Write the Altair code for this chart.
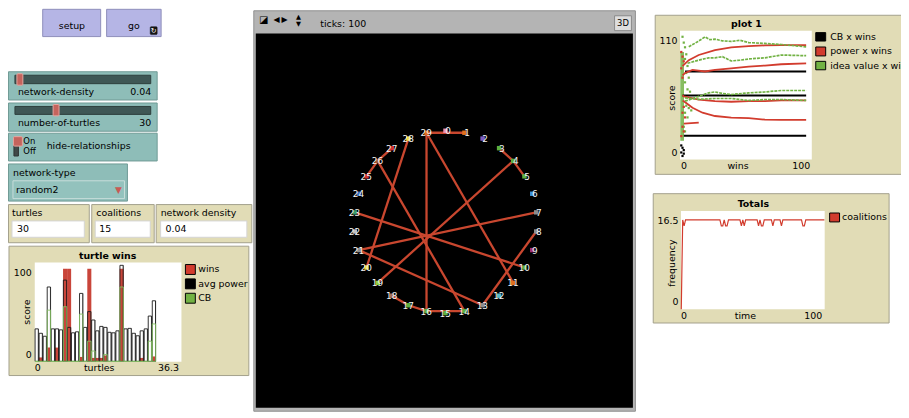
import altair as alt
import pandas as pd

FONT = "DejaVu Sans"
W, H = 901, 410

RED = "#d23c2e"
BAR_RED = "#c9453a"
GREEN = "#72b244"
TEAL = "#8ebdb8"
TEAL_EDGE = "#6f9a95"
BEIGE = "#e1dcb6"
BEIGE_EDGE = "#a3a08c"
LAV = "#b5b5e5"
LAV_EDGE = "#8e8eba"

# ------------------------------------------------------------------ data
# "turtle wins" plot: one column per turtle (who 0..29)
turtle_who = list(range(30))
avg_power = [33, 28.5, 25.5, 75.5, 33, 33, 32, 82.5, 34.5, 29,
             30, 69, 34.5, 50.5, 42, 31, 35.5, 34.5, 29.5, 29,
             31, 97.5, 33, 33.5, 28.5, 26, 31, 33, 46, 61.5]
cb_score = [0, 0, 0, 52, 0, 0, 0, 55.5, 0, 0,
            0, 48, 0, 20.5, 10.5, 0, 0, 7, 0, 0,
            0, 75.5, 0, 0, 0, 0, 0, 0, 20.5, 38]
win_score = [0, 4, 0, 14, 0, 14, 0, 94, 94, 0,
             0, 4.5, 0, 94, 3.5, 3.5, 3.5, 6, 0, 0,
             0, 94, 0, 0, 0, 0, 3.5, 0, 0, 5]
tw_x_ticks = ["0", "36.3"]
tw_y_ticks = ["0", "100"]

# "plot 1": trails (wins, score)
p1_cb_trails = [
    [(3, 75.3), (100, 75.3)],
    [(1, 54.7), (100, 54.7)],
    [(2, 20.3), (100, 20.3)],
]
p1_power_trails = [
    [(1, 80), (2, 81), (6, 85), (14, 89.4), (27, 93.6), (40, 95.9), (54, 97), (67, 97.6), (80, 97.9), (100, 97.9)],
    [(1, 72), (3, 74), (9, 76.7), (19, 75.3), (27, 76.7), (40, 78), (54, 79.5), (67, 80.4), (80, 81.5), (100, 82.3)],
    [(1, 55), (2, 54), (14, 51.3), (27, 49.9), (40, 49.4), (54, 49.9), (67, 49.9), (80, 50.5), (100, 50.5)],
    [(1, 50), (2, 49.9), (9, 44.3), (17, 40), (27, 37.2), (40, 35.8), (54, 35.3), (67, 34.1), (80, 33.8), (100, 33.8)],
    [(2, 30.7), (14, 31.6)],
]
p1_idea_trails = [
    [(6, 96.4), (13, 100.7), (19, 104.9), (23, 102.5), (27, 103), (33, 101.5), (40, 101), (47, 102), (54, 100), (67, 99.3), (80, 98.4), (100, 96.4)],
    [(5, 82.3), (14, 85), (22, 87), (27, 87), (33, 88), (40, 84.3), (47, 85), (54, 86), (67, 87), (80, 89.4), (100, 88.8)],
    [(3, 49.9), (14, 54), (22, 57), (27, 57.8), (33, 56.5), (40, 55.6), (54, 57), (67, 57.8), (80, 59), (100, 59)],
    [(3, 52.7), (14, 51.5), (27, 52.2), (40, 52.2), (54, 50.5), (67, 51.3), (80, 51.3), (100, 50.5)],
]
p1_idea_band = [(-0.8, 16), (2.2, 92)]          # dense cloud of idea values at ~0 wins
p1_idea_dots = [(1, 105), (2, 100), (3, 96), (4, 90), (3, 86), (5, 80), (4, 74), (6, 70),
                (3, 66), (5, 60), (7, 58), (4, 46), (6, 44), (8, 42), (3, 40), (5, 36), (2, 28), (3, 24)]
p1_power_dots = [(0, 92), (1, 88), (2, 84), (0, 78), (1, 70), (2, 45), (1, 40), (3, 36), (1, 28), (2, 24), (0, 20)]
p1_cb_dots = [(0, 12), (1, 10), (2, 8), (0, 6), (2, 5), (1, 3)]
p1_x_ticks = ["0", "100"]
p1_y_ticks = ["0", "110"]

# "Totals": coalitions per tick (vertices of the line)
tot_tick = [0, 1, 2, 3, 27, 28, 29, 30, 31, 32, 33, 41, 42, 43, 44, 45, 53, 54, 55, 56, 57, 58,
            63, 64, 65, 69, 70, 71, 84, 85, 86, 87, 100]
tot_coalitions = [0, 15, 14, 15, 15, 14, 14, 15, 14, 14, 15, 15, 14, 15, 14, 15, 15, 14, 15, 14, 14, 15,
                  15, 14, 15, 15, 14, 15, 15, 14, 14, 15, 15]
tot_x_ticks = ["0", "100"]
tot_y_ticks = ["0", "16.5"]

# network view: turtles (layout-circle positions read from the view)
node_who = list(range(30))
node_x = [0, 2.08, 4.07, 5.88, 7.43, 8.66, 9.51, 9.95, 9.95, 9.51,
          8.66, 7.43, 5.88, 4.07, 2.08, 0, -2.08, -4.07, -5.88, -7.43,
          -8.66, -9.51, -9.95, -9.95, -9.51, -8.66, -7.43, -5.88, -4.07, -2.08]
node_y = [10, 9.78, 9.14, 8.09, 6.69, 5.0, 3.09, 1.05, -1.05, -3.09,
          -5.0, -6.69, -8.09, -9.14, -9.78, -10, -9.78, -9.14, -8.09, -6.69,
          -5.0, -3.09, -1.05, 1.05, 3.09, 5.0, 6.69, 8.09, 9.14, 9.78]
node_color = ["#e890b0", "#e0701e", "#7b5cc0", "#5cb040", "#5cb040", "#5cb040", "#3c8fd6", "#8c8c8c",
              "#8c8c8c", "#a0306e", "#5cb040", "#e0701e", "#4fb8c8", "#8c8c8c", "#5cb040", "#5cb040",
              "#5cb040", "#5cb040", "#a0705a", "#8ed040", "#f0e040", "#8c8c8c", "#c0c0c0", "#3a9a6a",
              "#3c70c0", "#d03030", "#a05a3a", "#d03030", "#f0e040", "#e0701e"]
edge_from = [29, 3, 4, 29, 29, 28, 27, 26, 26, 23, 21, 21, 19, 8, 18, 17, 16]
edge_to = [1, 4, 5, 16, 11, 20, 26, 25, 14, 10, 7, 13, 4, 13, 17, 16, 14]

# monitors / widgets values
monitor_turtles = "30"
monitor_coalitions = "15"
monitor_density = "0.04"
slider_density = "0.04"
slider_turtles = "30"
chooser_value = "random2"
view_ticks = "ticks: 100"


# ------------------------------------------------------------------ helpers
def sc(dom, a, b):
    return alt.Scale(domain=dom, range=[a - 8, b - 8], nice=False, zero=False)


PXS = sc([0, 909], 0, 909)
PYS = sc([0, 418], 0, 418)


def rect_layer(rows, **mk):
    df = pd.DataFrame(rows, columns=["x1", "y1", "x2", "y2", "fill", "stroke", "sw"])
    return alt.Chart(df).mark_rect(**mk).encode(
        x=alt.X("x1:Q", scale=PXS, axis=None), x2="x2:Q",
        y=alt.Y("y1:Q", scale=PYS, axis=None), y2="y2:Q",
        fill=alt.Fill("fill:N", scale=None),
        stroke=alt.Stroke("stroke:N", scale=None),
        strokeWidth=alt.StrokeWidth("sw:Q", scale=None))


def text_layer(rows, align="left", size=9.5, weight="normal", angle=0, color="#000000"):
    df = pd.DataFrame(rows, columns=["x", "y", "t"])
    return alt.Chart(df).mark_text(align=align, baseline="middle", font=FONT, fontSize=size,
                                   fontWeight=weight, angle=angle, color=color).encode(
        x=alt.X("x:Q", scale=PXS, axis=None), y=alt.Y("y:Q", scale=PYS, axis=None), text="t:N")


layers = []

# ------------------------------------------------------------------ widget frames
layers.append(rect_layer([
    # buttons
    (43, 7.5, 101.5, 35, LAV, LAV_EDGE, 1),
    (107.5, 7.5, 162.5, 35, LAV, LAV_EDGE, 1),
    # sliders, switch, chooser
    (8.5, 70.5, 158.5, 99, TEAL, TEAL_EDGE, 1),
    (8.5, 102, 158.5, 130.5, TEAL, TEAL_EDGE, 1),
    (8.5, 132.5, 158.5, 160.5, TEAL, TEAL_EDGE, 1),
    (8.5, 163.5, 128.5, 201, TEAL, TEAL_EDGE, 1),
    (13, 180.5, 125.5, 198.5, "#93c2bd", "#c8dedb", 1),
    # slider tracks
    (15, 74, 152, 82.5, "#3f5755", "#2e3f3d", 1),
    (15, 105.5, 152, 113.5, "#3f5755", "#2e3f3d", 1),
    # switch slot
    (14, 137, 18.5, 155.5, "#404a49", "#2e3534", 1),
    # monitors
    (8.5, 204.5, 90, 243, BEIGE, BEIGE_EDGE, 1),
    (92.5, 204.5, 155.5, 243, BEIGE, BEIGE_EDGE, 1),
    (157.5, 204.5, 254, 243, BEIGE, BEIGE_EDGE, 1),
    (12, 221, 85, 237.5, "#ffffff", "#d4d4d4", 1),
    (96, 221, 151.5, 237.5, "#ffffff", "#d4d4d4", 1),
    (162, 221, 249, 237.5, "#ffffff", "#d4d4d4", 1),
    # plots
    (9, 246.5, 251, 377, BEIGE, BEIGE_EDGE, 1),
    (35, 263, 183, 363, "#ffffff", "#ffffff", 0),
    (661, 13.5, 915, 174, BEIGE, BEIGE_EDGE, 1),
    (686, 29, 819, 159, "#ffffff", "#ffffff", 0),
    (659, 193.5, 897, 324, BEIGE, BEIGE_EDGE, 1),
    (687, 211, 832, 310, "#ffffff", "#ffffff", 0),
    # legend swatches
    (187, 265, 197, 275, RED, "#000000", 1),
    (187, 279.5, 197, 289.5, "#000000", "#000000", 1),
    (187, 294, 197, 304, GREEN, "#000000", 1),
    (823, 31, 833, 39.5, "#000000", "#000000", 1),
    (823, 45.5, 833, 54.5, RED, "#000000", 1),
    (823, 60, 833, 68.5, GREEN, "#000000", 1),
    (837, 213, 847, 222, RED, "#000000", 1),
    # view
    (256, 9, 641, 413, "#b4b4b4", "#8f8f8f", 1),
    (258, 32, 638.5, 409.5, "#000000", "#000000", 0),
    (620, 14, 637, 29, "#dedede", "#8a8a8a", 1),
]))

# slider knobs, switch knob, forever icon
layers.append(rect_layer([
    (17, 72.5, 23, 84, "#c5645d", "#e8a6a0", 1),
    (53.5, 103.5, 59.5, 115, "#c5645d", "#e8a6a0", 1),
    (13.5, 136, 22.5, 145.5, "#c5645d", "#e8a6a0", 1),
    (151.5, 25, 158.5, 33, "#151515", "#151515", 0.5),
], cornerRadius=1))

# ------------------------------------------------------------------ turtle wins plot
TWX = sc([0, 36.3], 35, 183)
TWY = sc([0, 100], 362.7, 263.3)
tw_df = pd.DataFrame({"who": turtle_who, "power": avg_power, "cb": cb_score, "wins": win_score})
tw = alt.Chart(tw_df)

# grey shade on the right side of each avg-power column (drawn under the red bars)
layers.append(
    tw.transform_calculate(a="datum.who + 0.8", b="datum.who + 1.05", z="0")
    .mark_rect(color="#ababab")
    .encode(x=alt.X("a:Q", scale=TWX, axis=None), x2="b:Q",
            y=alt.Y("power:Q", scale=TWY, axis=None), y2="z:Q"))
layers.append(
    tw.transform_filter("datum.wins > 0")
    .transform_calculate(a="datum.who", b="datum.who + 1", z="0")
    .mark_rect(color=BAR_RED)
    .encode(x=alt.X("a:Q", scale=TWX, axis=None), x2="b:Q",
            y=alt.Y("wins:Q", scale=TWY, axis=None), y2="z:Q"))
layers.append(
    tw.transform_calculate(a="datum.who + 0.08", b="datum.who + 0.88", z="0")
    .mark_rect(fillOpacity=0, stroke="#1a1a1a", strokeWidth=0.9)
    .encode(x=alt.X("a:Q", scale=TWX, axis=None), x2="b:Q",
            y=alt.Y("power:Q", scale=TWY, axis=None), y2="z:Q"))
layers.append(
    tw.transform_calculate(a="datum.who + 0.08", b="datum.who + 0.92", z="0")
    .mark_rect(fillOpacity=0, stroke="#84c262", strokeWidth=0.9)
    .encode(x=alt.X("a:Q", scale=TWX, axis=None), x2="b:Q",
            y=alt.Y("cb:Q", scale=TWY, axis=None), y2="z:Q"))

# ------------------------------------------------------------------ plot 1
P1X = sc([0, 100], 687.3, 813.3)
P1Y = sc([0, 110], 159, 29.3)


def trails(series):
    rows = []
    for k, pts in enumerate(series):
        for w_, v_ in pts:
            rows.append({"s": k, "w": w_, "v": v_})
    return pd.DataFrame(rows)


def p1_enc():
    return dict(x=alt.X("w:Q", scale=P1X, axis=None), y=alt.Y("v:Q", scale=P1Y, axis=None))


band_df = pd.DataFrame({"w": [p1_idea_band[0][0]], "w2": [p1_idea_band[1][0]],
                        "v": [p1_idea_band[0][1]], "v2": [p1_idea_band[1][1]]})
layers.append(alt.Chart(band_df).mark_rect(color=GREEN, opacity=0.85).encode(
    x=alt.X("w:Q", scale=P1X, axis=None), x2="w2:Q",
    y=alt.Y("v:Q", scale=P1Y, axis=None), y2="v2:Q"))
layers.append(alt.Chart(pd.DataFrame(p1_idea_dots, columns=["w", "v"])).mark_square(
    size=5, color=GREEN, opacity=1).encode(**p1_enc()))
layers.append(alt.Chart(pd.DataFrame(p1_power_dots, columns=["w", "v"])).mark_square(
    size=5, color=RED, opacity=1).encode(**p1_enc()))
layers.append(alt.Chart(pd.DataFrame(p1_cb_dots, columns=["w", "v"])).mark_square(
    size=5, color="#000000", opacity=1).encode(**p1_enc()))
layers.append(alt.Chart(trails(p1_cb_trails)).mark_line(color="#000000", strokeWidth=2).encode(
    detail="s:N", **p1_enc()))
layers.append(alt.Chart(trails(p1_power_trails)).mark_line(color=RED, strokeWidth=1.8).encode(
    detail="s:N", **p1_enc()))
layers.append(alt.Chart(trails(p1_idea_trails)).mark_line(
    color=GREEN, strokeWidth=1.7, strokeDash=[3, 1]).encode(detail="s:N", **p1_enc()))

# ------------------------------------------------------------------ Totals
TX = sc([0, 100], 687.3, 831.7)
TY = sc([0, 16.5], 310, 211)
tot_df = pd.DataFrame({"t": tot_tick, "c": tot_coalitions})
layers.append(alt.Chart(tot_df).mark_line(color=RED, strokeWidth=1.2).encode(
    x=alt.X("t:Q", scale=TX, axis=None), y=alt.Y("c:Q", scale=TY, axis=None)))

# ------------------------------------------------------------------ network view
NX = sc([-10, 10], 357.4, 541.4)
NY = sc([-10, 10], 314, 130)
nodes = pd.DataFrame({"who": node_who, "x": node_x, "y": node_y, "col": node_color,
                      "lab": [str(w_) for w_ in node_who]})
edges = pd.DataFrame({"a": edge_from, "b": edge_to})
edges["x"] = [node_x[i] for i in edge_from]
edges["y"] = [node_y[i] for i in edge_from]
edges["x2"] = [node_x[i] for i in edge_to]
edges["y2"] = [node_y[i] for i in edge_to]
layers.append(alt.Chart(edges).mark_rule(color="#c9472f", strokeWidth=2.3).encode(
    x=alt.X("x:Q", scale=NX, axis=None), x2="x2:Q",
    y=alt.Y("y:Q", scale=NY, axis=None), y2="y2:Q"))
layers.append(alt.Chart(nodes).mark_square(size=20, opacity=1).encode(
    x=alt.X("x:Q", scale=NX, axis=None), y=alt.Y("y:Q", scale=NY, axis=None),
    color=alt.Color("col:N", scale=None)))
layers.append(alt.Chart(nodes).mark_text(align="right", baseline="middle", dx=5.5, dy=0.5,
                                         font=FONT, fontSize=9, color="#f4f4f4").encode(
    x=alt.X("x:Q", scale=NX, axis=None), y=alt.Y("y:Q", scale=NY, axis=None), text="lab:N"))

# ------------------------------------------------------------------ texts
layers.append(text_layer([
    (18, 91, "network-density"),
    (18, 122, "number-of-turtles"),
    (47, 145.5, "hide-relationships"),
    (13, 173, "network-type"),
    (16, 189.5, chooser_value),
    (12, 213.5, "turtles"),
    (97, 213.5, "coalitions"),
    (162, 213.5, "network density"),
    (17, 229.5, monitor_turtles),
    (100, 229.5, monitor_coalitions),
    (167, 229.5, monitor_density),
    (323, 22, view_ticks),
    (200, 270, "wins"),
    (200, 284.5, "avg power"),
    (200, 299, "CB"),
    (837.5, 35, "CB x wins"),
    (837.5, 50, "power x wins"),
    (837.5, 64.5, "idea value x wins"),
    (849.5, 217.5, "coalitions"),
    (35, 369.5, tw_x_ticks[0]),
    (687, 166, p1_x_ticks[0]),
    (687, 317, tot_x_ticks[0]),
]))
layers.append(text_layer([
    (152.5, 91, slider_density),
    (152.5, 122, slider_turtles),
    (32, 273.5, tw_y_ticks[1]),
    (32, 356, tw_y_ticks[0]),
    (180.5, 369.5, tw_x_ticks[1]),
    (683.5, 39.5, p1_y_ticks[1]),
    (683.5, 152, p1_y_ticks[0]),
    (817.5, 166, p1_x_ticks[1]),
    (684.5, 221, tot_y_ticks[1]),
    (684.5, 302.5, tot_y_ticks[0]),
    (829.5, 317, tot_x_ticks[1]),
], align="right"))
layers.append(text_layer([
    (72.5, 24, "setup"),
    (135, 24, "go"),
    (100, 369.5, "turtles"),
    (744.5, 166, "wins"),
    (752, 317, "time"),
], align="center"))
layers.append(text_layer([(628.5, 21.5, "3D")], align="center", size=8.5))
layers.append(text_layer([
    (108.5, 256, "turtle wins"),
    (753, 22.5, "plot 1"),
    (760, 203.5, "Totals"),
], align="center", weight="bold", size=9.5))
layers.append(text_layer([
    (27, 313, "score"),
    (678, 97, "score"),
    (678, 263.5, "frequency"),
], align="center", angle=270))
layers.append(text_layer([(23.5, 140.5, "On"), (23.5, 150, "Off")], size=8.5))
layers.append(text_layer([(119.5, 189.5, "▼")], align="center", size=9, color="#c85a55"))
layers.append(text_layer([(155, 29, "↻")], align="center", size=7, color="#ffffff"))
layers.append(text_layer([(266, 18.5, "◪")], align="center", size=10))
layers.append(text_layer([
    (279, 18.5, "◀"),
    (287, 18.5, "▶"),
], align="center", size=8))
layers.append(text_layer([
    (301, 15, "▲"),
    (301, 22.5, "▼"),
], align="center", size=6.5))

chart = alt.layer(*layers).resolve_scale(x="independent", y="independent").properties(
    width=W, height=H, padding=0, autosize="none", background="white"
).configure_view(stroke=None)

chart.save("out.html", embed_options={"renderer": "svg", "actions": False})
